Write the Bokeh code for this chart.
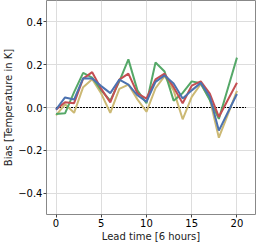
from bokeh.plotting import figure
from bokeh.models import FixedTicker, Range1d
from bokeh.embed import file_html
from bokeh.resources import INLINE

lead = list(range(21))
blue = [-0.010, 0.047, 0.037, 0.137, 0.135, 0.100, 0.067, 0.130, 0.107, 0.057, 0.027, 0.120, 0.150, 0.112, 0.042, 0.080, 0.115, 0.050, -0.108, -0.022, 0.063]
red = [-0.010, 0.025, 0.020, 0.135, 0.165, 0.087, 0.024, 0.130, 0.158, 0.066, 0.042, 0.131, 0.158, 0.095, 0.020, 0.102, 0.122, 0.065, -0.044, 0.036, 0.116]
green = [-0.030, -0.027, 0.072, 0.162, 0.140, 0.080, 0.032, 0.122, 0.225, 0.080, 0.020, 0.210, 0.168, 0.032, 0.068, 0.122, 0.113, 0.035, -0.053, 0.090, 0.233]
yellow = [-0.037, 0.015, -0.025, 0.095, 0.132, 0.065, -0.025, 0.087, 0.107, 0.038, -0.020, 0.090, 0.147, 0.080, -0.055, 0.050, 0.110, 0.038, -0.141, -0.032, 0.078]
zero_x = [0, 21]
zero_y = [0, 0]
x_ticks = [0, 5, 10, 15, 20]
y_ticks = [-0.4, -0.2, 0.0, 0.2, 0.4]
y_labels = {-0.4: "\u22120.4", -0.2: "\u22120.2", 0.0: "0.0", 0.2: "0.2", 0.4: "0.4"}

p = figure(width=258, height=244, output_backend="svg", toolbar_location=None,
           x_range=Range1d(-1.05, 22.05), y_range=Range1d(-0.5, 0.5),
           min_border_left=0, min_border_right=3, min_border_top=0, min_border_bottom=0)

p.line(zero_x, zero_y, line_color="black", line_dash="2 1", line_width=1)
p.line(lead, yellow, line_color="#ccb974", line_width=2)
p.line(lead, green, line_color="#55a868", line_width=2)
p.line(lead, red, line_color="#c44e52", line_width=2)
p.line(lead, blue, line_color="#4c72b0", line_width=2)

p.xaxis.ticker = FixedTicker(ticks=x_ticks)
p.yaxis.ticker = FixedTicker(ticks=y_ticks)
p.yaxis.major_label_overrides = y_labels
p.xaxis.axis_label = "Lead time [6 hours]"
p.yaxis.axis_label = "Bias [Temperature in K]"
for ax in (p.xaxis, p.yaxis):
    ax.axis_label_text_font = "DejaVu Sans"
    ax.axis_label_text_font_size = "10px"
    ax.axis_label_text_font_style = "normal"
    ax.major_label_text_font = "DejaVu Sans"
    ax.major_label_text_font_size = "10px"
    ax.major_label_text_color = "black"
    ax.axis_label_text_color = "#222222"
    ax.axis_line_color = None
    ax.minor_tick_line_color = None
    ax.major_tick_line_color = "#444444"
    ax.major_tick_out = 3
    ax.major_tick_in = 0
    ax.axis_label_standoff = 1
    ax.major_label_standoff = 1

p.xgrid.grid_line_color = "#dddddd"
p.ygrid.grid_line_color = "#dddddd"
p.xgrid.grid_line_width = 1
p.ygrid.grid_line_width = 1
p.outline_line_color = "#888888"
p.outline_line_width = 1
p.background_fill_color = "white"
p.border_fill_color = "white"

open("out.html", "w").write(file_html(p, INLINE))
